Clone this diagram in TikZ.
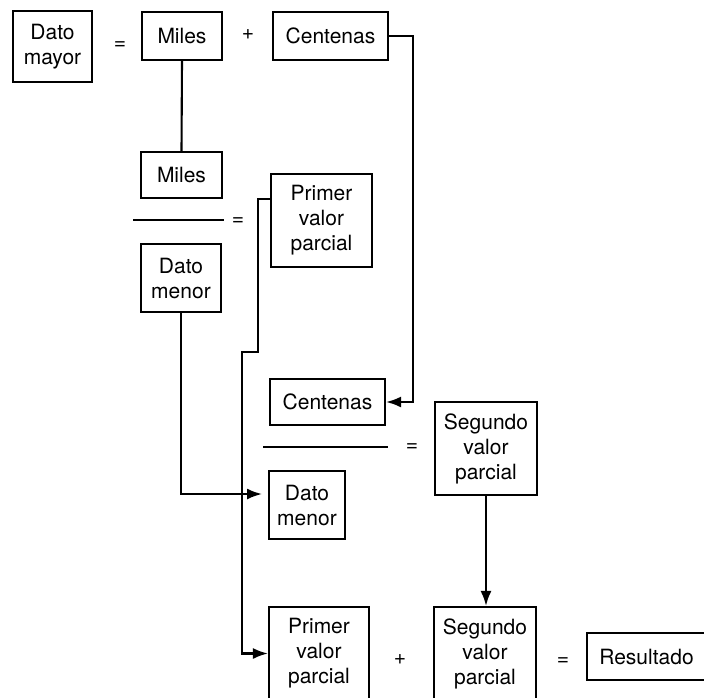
\documentclass[tikz,border=0pt]{standalone}
\usepackage{fontspec}
\setmainfont{TeX Gyre Heros}
\usetikzlibrary{arrows.meta}
\begin{document}
\begin{tikzpicture}[x=1pt,y=-1pt,
  every node/.style={font=\fontsize{21}{25}\selectfont},
  bx/.style={draw,line width=2.1pt,inner sep=0pt,align=center},
  ln/.style={line width=2.1pt},
  arr/.style={line width=2.1pt,-{Latex[length=15pt,width=11pt]}},
  op/.style={inner sep=0pt}]
\useasboundingbox[fill=white] (0,0) rectangle (704,697);
% row 1
\node[bx,minimum width=79pt,minimum height=71pt] (dm) at (52.5,46.5) {Dato\\mayor};
\node[op] (eq1) at (120,46) {=};
\node[bx,minimum width=80pt,minimum height=48pt] (m1) at (182,36) {Miles};
\node[op] (pl1) at (248,35) {+};
\node[bx,minimum width=115pt,minimum height=48pt] (c1) at (330.5,36) {Centenas};
% first division
\node[bx,minimum width=81pt,minimum height=46pt] (m2) at (181.5,175) {Miles};
\coordinate (f1a) at (133,220);
\coordinate (f1b) at (224,220);
\node[op] (eq2) at (238,222) {=};
\node[bx,minimum width=80pt,minimum height=68pt] (dmen1) at (181,278) {Dato\\menor};
\node[bx,minimum width=101pt,minimum height=93pt] (p1) at (321.5,220.5) {Primer\\valor\\parcial};
% second division
\node[bx,minimum width=115pt,minimum height=46pt] (c2) at (327.5,402) {Centenas};
\coordinate (f2a) at (263,447);
\coordinate (f2b) at (388,447);
\node[op] (eq3) at (412,448) {=};
\node[bx,minimum width=76pt,minimum height=68pt] (dmen2) at (307,505) {Dato\\menor};
\node[bx,minimum width=102pt,minimum height=93pt] (s1) at (486,448.5) {Segundo\\valor\\parcial};
% bottom row
\node[bx,minimum width=100pt,minimum height=93pt] (p2) at (319,653.5) {Primer\\valor\\parcial};
\node[op] (pl2) at (400,660) {+};
\node[bx,minimum width=102pt,minimum height=93pt] (s2) at (485,653.5) {Segundo\\valor\\parcial};
\node[op] (eq4) at (563,662) {=};
\node[bx,minimum width=119pt,minimum height=47pt] (res) at (646.5,656.5) {Resultado};
% fraction bars
\draw[ln] (f1a) -- (f1b);
\draw[ln] (f2a) -- (f2b);
% connectors
\coordinate (cR) at (413,0);
\draw[arr] (c1.east) -- (cR |- c1.east) -- (cR |- c2.east) -- (c2.east);
\draw[ln] (m1.south) -- (m2.north);
\coordinate (pA) at (271,199);
\coordinate (pB) at (258,199);
\coordinate (pC) at (258,352);
\coordinate (pD) at (242,352);
\draw[arr] (pA) -- (pB) -- (pC) -- (pD) -- (pD |- p2.west) -- (p2.west);
\coordinate (dE) at (262,494);
\draw[arr] (dmen1.south) -- (dmen1.south |- dE) -- (dE);
\draw[arr] (s1.south) -- (s1.south |- s2.north);
\end{tikzpicture}
\end{document}
